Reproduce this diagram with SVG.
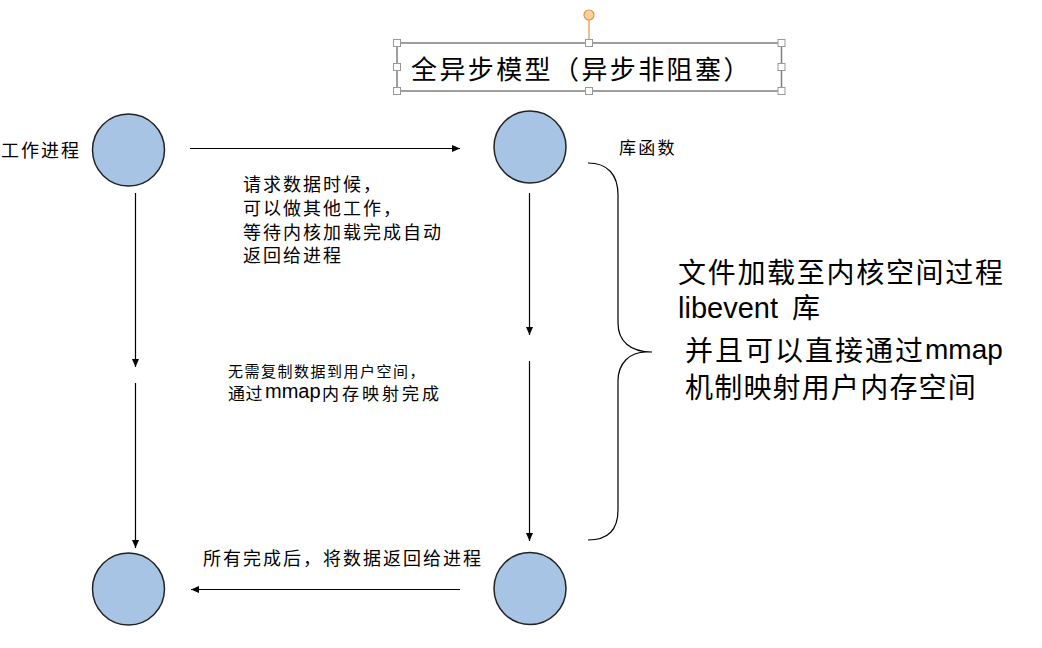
<svg xmlns="http://www.w3.org/2000/svg" width="1042" height="648" viewBox="0 0 1042 648">
<defs>
<style>
.node{fill:#A7C4E5;stroke:#222;stroke-width:1.5}
.edge{fill:none;stroke:#000;stroke-width:1.2}
.t{font-family:"Noto Sans CJK SC","Liberation Sans",sans-serif;fill:#000}
.lat{font-family:"Liberation Sans","Noto Sans CJK SC",sans-serif;fill:#000}
.h{fill:#fff;stroke:#999;stroke-width:1}
</style>
<marker id="arr" markerWidth="9" markerHeight="8" refX="8" refY="4" orient="auto" markerUnits="userSpaceOnUse">
<path d="M0,0.5 L8,4 L0,7.5 z" fill="#000"/>
</marker>
</defs>
<rect width="1042" height="648" fill="#fff"/>

<g id="title">
<line x1="589" y1="20" x2="589" y2="43" stroke="#E8904A" stroke-width="1.2"/>
<circle cx="589" cy="15" r="5" fill="#FFD39A" stroke="#E8904A" stroke-width="1.2"/>
<rect x="397" y="43" width="384.5" height="48" fill="#fff" stroke="#7f7f7f" stroke-width="1.5"/>
<rect class="h" x="393.5" y="39.5" width="7" height="7"/>
<rect class="h" x="585.5" y="39.5" width="7" height="7"/>
<rect class="h" x="778" y="39.5" width="7" height="7"/>
<rect class="h" x="393.5" y="63.5" width="7" height="7"/>
<rect class="h" x="778" y="63.5" width="7" height="7"/>
<rect class="h" x="393.5" y="87.5" width="7" height="7"/>
<rect class="h" x="585.5" y="87.5" width="7" height="7"/>
<rect class="h" x="778" y="87.5" width="7" height="7"/>
<text class="t" x="411" y="78.5" font-size="26" letter-spacing="2.4">全异步模型（异步非阻塞）</text>
</g>

<g id="worker">
<circle class="node" cx="128.5" cy="150" r="36"/>
<text class="t" x="1" y="157" font-size="18" letter-spacing="2">工作进程</text>
</g>
<g id="lib">
<circle class="node" cx="530" cy="147" r="36"/>
<text class="t" x="619" y="154" font-size="17" letter-spacing="2.3">库函数</text>
</g>
<g id="worker-end">
<circle class="node" cx="128.5" cy="589" r="36"/>
</g>
<g id="lib-end">
<circle class="node" cx="530" cy="588.5" r="36"/>
</g>

<g id="connectors">
<line class="edge" x1="190" y1="148.5" x2="460" y2="148.5" marker-end="url(#arr)"/>
<line class="edge" x1="135.5" y1="193" x2="135.5" y2="367" marker-end="url(#arr)"/>
<line class="edge" x1="135.5" y1="383" x2="135.5" y2="548" marker-end="url(#arr)"/>
<line class="edge" x1="529.5" y1="193" x2="529.5" y2="335" marker-end="url(#arr)"/>
<line class="edge" x1="529.5" y1="361" x2="529.5" y2="541" marker-end="url(#arr)"/>
<line class="edge" x1="460" y1="589.5" x2="191" y2="589.5" marker-end="url(#arr)"/>
<path class="edge" stroke-width="1.5" d="M588,163 C608,163 618,175 618,195 L618,323 C618,341 630,352 652,352 M652,352 L646,352 C630,352 618,363 618,381 L618,510 C618,530 608,540 588,540"/>
</g>

<g id="labels">
<text class="t" font-size="18" letter-spacing="2">
<tspan x="243" y="190.5">请求数据时候，</tspan>
<tspan x="243" y="214.5">可以做其他工作，</tspan>
<tspan x="243" y="238.5">等待内核加载完成自动</tspan>
<tspan x="243" y="262">返回给进程</tspan>
</text>
<text class="t" x="228" y="377" font-size="15" letter-spacing="1.5">无需复制数据到用户空间，</text>
<text class="t" x="228" y="399.5" font-size="17" letter-spacing="0.5">通过</text>
<text class="lat" x="265" y="398" font-size="20">mmap</text>
<text class="t" x="322" y="399.5" font-size="17" letter-spacing="3">内存映射完成</text>
<text class="t" x="203" y="565" font-size="18" letter-spacing="2">所有完成后，将数据返回给进程</text>
<text class="t" x="678" y="283" font-size="28" letter-spacing="1.7">文件加载至内核空间过程</text>
<text class="lat" x="678" y="318" font-size="29">libevent<tspan x="792" font-size="28">库</tspan></text>
<text class="t" x="685" y="360.5" font-size="28" letter-spacing="2">并且可以直接通过</text>
<text class="lat" x="925" y="359" font-size="28">mmap</text>
<text class="t" x="685" y="397.5" font-size="28" letter-spacing="1.2">机制映射用户内存空间</text>
</g>
</svg>
